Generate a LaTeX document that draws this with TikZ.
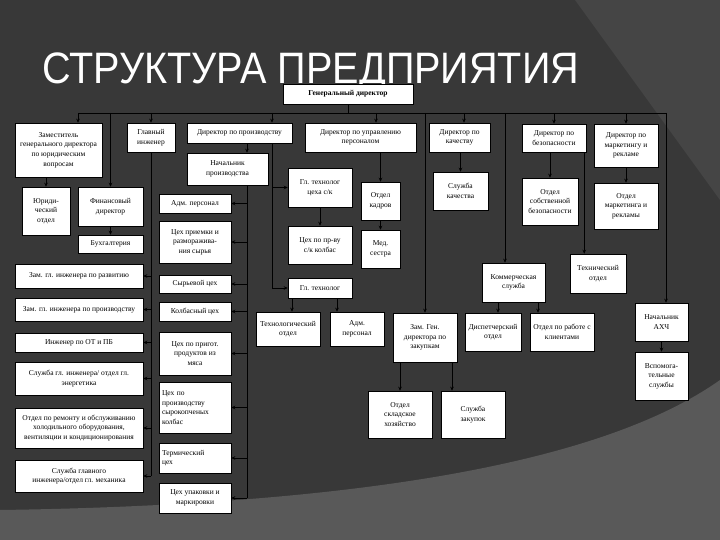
\documentclass[tikz,border=0pt]{standalone}
\usepackage{fontspec}
\setmainfont{Liberation Serif}
\newfontfamily\titlefont{Liberation Sans}
\usepackage{graphicx}
\usetikzlibrary{arrows.meta}
\definecolor{slidebg}{HTML}{383838}
\definecolor{slideband}{HTML}{454545}
\definecolor{slidelight}{HTML}{595959}

\begin{document}
\begin{tikzpicture}[x=1pt, y=-1pt, >={Stealth[length=4pt,width=3.5pt]},
    box/.style={draw=black, fill=white, line width=0.5pt, align=center, inner sep=1pt, font=\fontsize{7.5}{9.6}\selectfont},
    sz/.style 2 args={minimum width=#1pt, minimum height=#2pt},
    link/.style={line width=0.6pt, black}]
    % slide background
    \fill[slidebg] (0,0) rectangle (720,540);
    \fill[slideband] (575,0) -- (720,0) -- (720,200) -- cycle;
    \fill[slidelight] (0,510) .. controls (350,505) and (600,465) .. (720,380) -- (720,540) -- (0,540) -- cycle;
    \useasboundingbox (0,0) rectangle (720,540);

    \node[anchor=base west, inner sep=0, text=white, font=\titlefont\fontsize{44}{44}\selectfont] (title) at (42,84) {\scalebox{0.9}[1]{СТРУКТУРА ПРЕДПРИЯТИЯ}};

    % top level
    \node[box, sz={130}{20}, font=\bfseries\fontsize{7.5}{9.6}\selectfont] (gd) at (348,94) {Генеральный директор};
    \node[box, sz={87}{54}] (zamyur) at (58.5,150) {Заместитель\\генерального директора\\по юридическим\\вопросам};
    \node[box, sz={48}{29}] (glin) at (151,137.5) {Главный\\инженер};
    \node[box, sz={105}{20}] (dirpr) at (239.5,133) {Директор по производству};
    \node[box, sz={111}{29}] (dirpers) at (360.5,137.5) {Директор по управлению\\персоналом};
    \node[box, sz={61}{29}] (dirkach) at (459.5,137.5) {Директор по\\качеству};
    \node[box, sz={64}{28}] (dirbez) at (554,138) {Директор по\\безопасности};
    \node[box, sz={64}{43}] (dirmark) at (626,145.5) {Директор по\\маркетингу и\\рекламе};

    % second level
    \node[box, sz={48}{48}] (yurotd) at (46,211) {Юриди-\\ческий\\отдел};
    \node[box, sz={65}{39}] (findir) at (110.5,206.5) {Финансовый\\директор};
    \node[box, sz={65}{18}] (buh) at (110.5,244) {Бухгалтерия};
    \node[box, sz={81}{32}] (nachpr) at (227.5,169) {Начальник\\производства};
    \node[box, sz={64}{39}] (gltsk) at (320,187.5) {Гл. технолог\\цеха с/к};
    \node[box, sz={64}{38}] (cehsk2) at (320,245) {Цех по пр-ву\\с/к колбас};
    \node[box, sz={39}{38}] (kadry) at (380.5,201) {Отдел\\кадров};
    \node[box, sz={39}{38}] (med) at (380.5,249) {Мед.\\сестра};
    \node[box, sz={55}{38}] (slkach) at (460.5,191) {Служба\\качества};
    \node[box, sz={56}{47}] (bezotd) at (550,201.5) {Отдел\\собственной\\безопасности};
    \node[box, sz={64}{46}] (markotd) at (626,206) {Отдел\\маркетинга и\\рекламы};

    % shops under production
    \node[box, sz={72}{19}] (adm1) at (195,203.5) {Адм. персонал};
    \node[box, sz={72}{42}] (cehpriem) at (195,242) {Цех приемки и\\разморажива-\\ния сырья};
    \node[box, sz={72}{18}] (syr) at (195,284) {Сырьевой цех};
    \node[box, sz={72}{19}] (kolb) at (195,311.5) {Колбасный цех};
    \node[box, sz={72}{43}] (cehprig) at (195,353.5) {Цех по пригот.\\продуктов из\\мяса};
    \node[box, sz={72}{51}, text width=66pt, align=left] (cehsk) at (195,407.5) {Цех по\\производству\\сырокопченых\\колбас};
    \node[box, sz={72}{30}, text width=66pt, align=left] (term) at (195,458) {Термический\\цех};
    \node[box, sz={72}{30}] (upak) at (195,498) {Цех упаковки и\\маркировки};

    % chief engineer column
    \node[box, sz={128}{24}] (zamrazv) at (79,276) {Зам. гл. инженера по развитию};
    \node[box, sz={128}{23}] (zamproizv) at (79,309.5) {Зам. гл. инженера по производству};
    \node[box, sz={128}{19}] (ingot) at (79,342.5) {Инженер по ОТ и ПБ};
    \node[box, sz={128}{33}] (slenerg) at (79,378.5) {Служба гл. инженера/ отдел гл.\\энергетика};
    \node[box, sz={128}{40}] (remont) at (79,428) {Отдел по ремонту и обслуживанию\\холодильного оборудования,\\вентиляции и кондиционирования};
    \node[box, sz={128}{32}] (mehan) at (79,476) {Служба главного\\инженера/отдел гл. механика};

    % technologist, purchasing, commerce
    \node[box, sz={64}{20}] (gltehn) at (320,288) {Гл. технолог};
    \node[box, sz={64}{34}] (tehotd) at (288,329) {Технологический\\отдел};
    \node[box, sz={54}{34}] (adm2) at (357,329) {Адм.\\персонал};
    \node[box, sz={64}{49}] (zamzak) at (425,337.5) {Зам. Ген.\\директора по\\закупкам};
    \node[box, sz={64}{47}] (sklad) at (400,414.5) {Отдел\\складское\\хозяйство};
    \node[box, sz={64}{47}] (zakup) at (473,414.5) {Служба\\закупок};
    \node[box, sz={63}{39}] (kom) at (513.5,282.5) {Коммерческая\\служба};
    \node[box, sz={56}{38}] (disp) at (493,332) {Диспетчерский\\отдел};
    \node[box, sz={64}{38}] (klient) at (562,332) {Отдел по работе с\\клиентами};
    \node[box, sz={56}{39}] (tehotd2) at (598,273.5) {Технический\\отдел};
    \node[box, sz={53}{38}] (ahch) at (661.5,322) {Начальник\\АХЧ};
    \node[box, sz={53}{48}] (vspom) at (661.5,376) {Вспомога-\\тельные\\службы};

    % main bus
    \coordinate (busL) at (78,113);
    \coordinate (busR) at (666,113);
    \draw[link] (gd.south) -- (gd.south |- busL);
    \draw[link] (busL) -- (busR);
    \foreach \x/\n in {78/zamyur, 110.5/findir, 151/glin, 272/dirpr, 376/dirpers, 425/zamzak, 464/dirkach, 505/kom, 554/dirbez, 626/dirmark, 666/ahch} {
        \coordinate (drop) at (\x,113);
        \draw[link,->] (drop) -- (drop |- \n.north);
    }

    % chief engineer
    \draw[link] (glin.south) -- (glin.south |- mehan.east);
    \foreach \n in {zamrazv, zamproizv, ingot, slenerg, remont, mehan}
        \draw[link,->] (glin.south |- \n.east) -- (\n.east);

    % production
    \coordinate (npx) at (247,185);
    \draw[link,->] (npx |- dirpr.south) -- (npx |- nachpr.north);
    \draw[link] (npx |- nachpr.south) -- (npx |- upak.east);
    \foreach \n in {adm1, cehpriem, syr, kolb, cehprig, cehsk, term, upak}
        \draw[link,->] (npx |- \n.east) -- (\n.east);
    \coordinate (dpx) at (272,143);
    \draw[link] (dpx |- dirpr.south) -- (dpx |- gltehn.west);
    \draw[link,->] (dpx |- gltsk.west) -- (gltsk.west);
    \draw[link,->] (dpx |- gltehn.west) -- (gltehn.west);
    \draw[link,->] (gltsk.south) -- (cehsk2.north);
    \coordinate (tl) at ([xshift=-28pt]gltehn.south);
    \coordinate (tr) at ([xshift=17pt]gltehn.south);
    \draw[link,->] (tl) -- (tl |- tehotd.north);
    \draw[link,->] (tr) -- (tr |- adm2.north);

    % other branches
    \draw[link,->] (zamyur.south -| yurotd.north) -- (yurotd.north);
    \draw[link,->] (findir.south) -- (buh.north);
    \draw[link,->] (dirpers.south -| kadry.north) -- (kadry.north);
    \draw[link,->] (kadry.south) -- (med.north);
    \draw[link,->] (dirkach.south -| slkach.north) -- (slkach.north);
    \draw[link,->] (dirbez.south -| bezotd.north) -- (bezotd.north);
    \coordinate (bz) at ([xshift=-2pt]dirbez.south east);
    \draw[link,->] (bz) -- (bz |- tehotd2.north);
    \draw[link,->] (dirmark.south) -- (markotd.north);
    \draw[link,->] (zamzak.south -| sklad.north) -- (sklad.north);
    \coordinate (zz) at ([xshift=27pt]zamzak.south);
    \draw[link,->] (zz) -- (zz |- zakup.north);
    \coordinate (kl) at ([xshift=-15.5pt]kom.south);
    \coordinate (kr) at ([xshift=24.5pt]kom.south);
    \draw[link,->] (kl) -- (kl |- disp.north);
    \draw[link,->] (kr) -- (kr |- klient.north);
    \draw[link,->] (ahch.south) -- (vspom.north);
\end{tikzpicture}
\end{document}
